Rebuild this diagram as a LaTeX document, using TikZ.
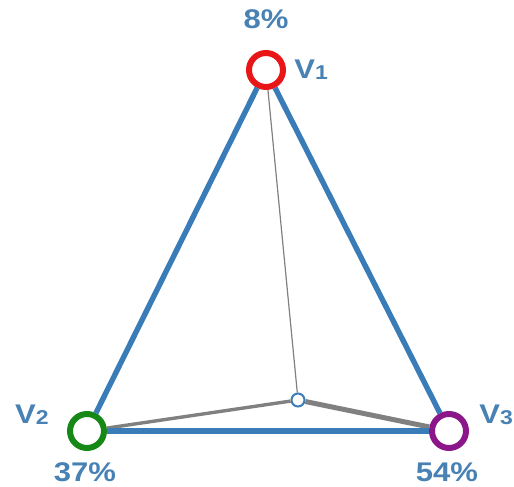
\documentclass[tikz,border=0pt]{standalone}
\usepackage{fontspec}
\setmainfont{Liberation Sans}
\newfontfamily\labelfont[FakeStretch=1.15]{Liberation Sans}
\usepackage{xcolor}
\usetikzlibrary{positioning}

\definecolor{edgeblue}{RGB}{58,124,184}
\definecolor{textblue}{RGB}{72,130,180}
\definecolor{ringred}{RGB}{232,22,22}
\definecolor{ringgreen}{RGB}{22,136,22}
\definecolor{ringpurple}{RGB}{138,22,138}
\definecolor{linegray}{RGB}{128,128,128}

\newcommand{\vlabel}[1]{V\raisebox{-0.5pt}{\fontsize{10}{10}\selectfont #1}}

\begin{document}
\begin{tikzpicture}[
    x=0.5pt, y=-0.5pt,
    vertex/.style={circle, draw, fill=white, line width=3pt, minimum size=17pt, inner sep=0pt},
    point/.style={circle, draw=edgeblue, fill=white, line width=1pt, minimum size=6.5pt, inner sep=0pt},
    label/.style={text=textblue, inner sep=0pt, font=\labelfont\bfseries\fontsize{13.5}{13.5}\selectfont},
    side/.style={draw=edgeblue, line width=2.7pt},
    spoke/.style={draw=linegray}
]
    \useasboundingbox (0,0) rectangle (514,487);

    % Vertices
    \node[vertex, draw=ringred] (V1) at (266,70) {};
    \node[vertex, draw=ringgreen] (V2) at (87,431) {};
    \node[vertex, draw=ringpurple] (V3) at (449,431) {};

    % Inner point
    \node[point] (P) at (298,400) {};

    % Names
    \node[label, right=4pt of V1] (n1) {\vlabel{1}};
    \node[label, left=9pt of V2, yshift=8pt] (n2) {\vlabel{2}};
    \node[label, right=5pt of V3, yshift=8pt] (n3) {\vlabel{3}};

    % Percentages
    \node[label, above=10.5pt of V1] (p1) {8\%};
    \node[label, below=5.5pt of V2, xshift=-1pt] (p2) {37\%};
    \node[label, below=5.5pt of V3, xshift=-1pt] (p3) {54\%};

    % Spokes
    \draw[spoke, line width=0.6pt] (V1) -- (P);
    \draw[spoke, line width=1.7pt] (V2) -- (P);
    \draw[spoke, line width=2.5pt] (V3) -- (P);

    % Sides
    \draw[side] (V1) -- (V2);
    \draw[side] (V2) -- (V3);
    \draw[side] (V3) -- (V1);
\end{tikzpicture}
\end{document}
